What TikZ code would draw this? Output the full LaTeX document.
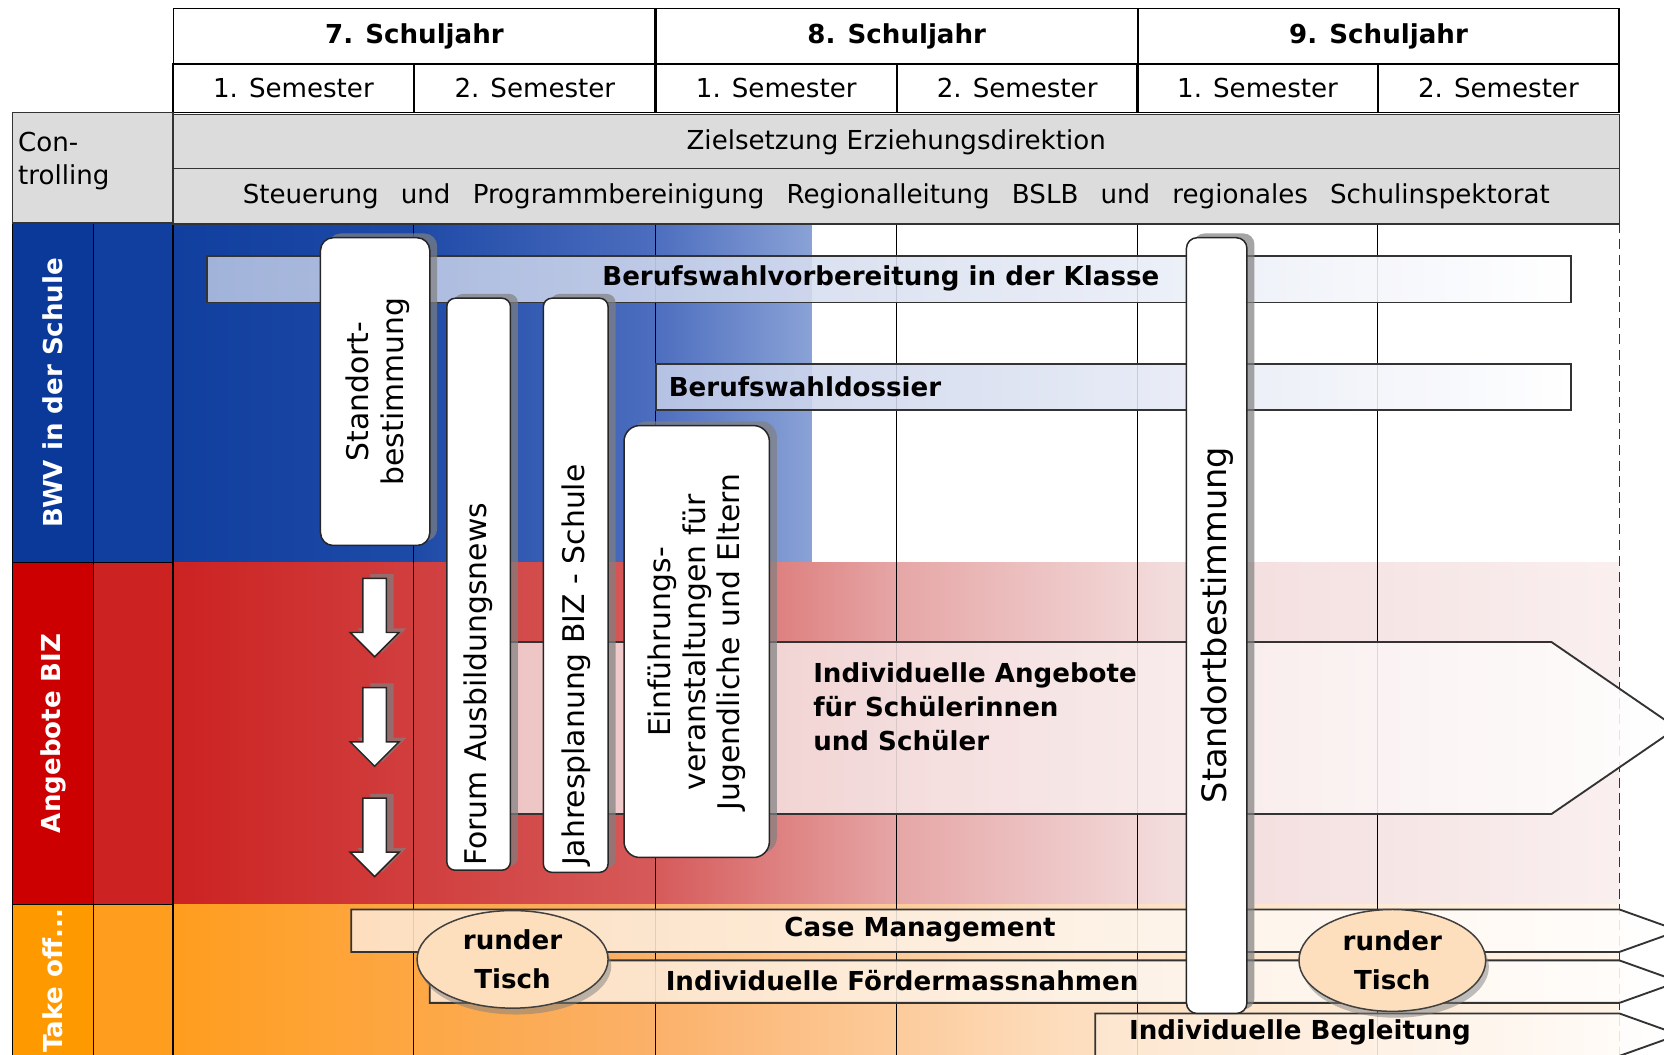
\documentclass[tikz,border=0pt]{standalone}
\usepackage{fontspec}
\setmainfont{DejaVu Sans}
\usetikzlibrary{shapes.geometric, shadows, positioning}
\definecolor{BWVDark}{HTML}{0A399A}
\definecolor{BWVBlue}{HTML}{113F9F}
\definecolor{BWVBlueA}{HTML}{1E4AA7}
\definecolor{BWVBlueB}{HTML}{4D6EBF}
\definecolor{BWVBlueC}{HTML}{8AA2D6}
\definecolor{BIZRed}{HTML}{CC0000}
\definecolor{BIZRedA}{HTML}{CC2222}
\definecolor{BIZRedB}{HTML}{D65A5A}
\definecolor{BIZRedC}{HTML}{E6A6A6}
\definecolor{BIZRedD}{HTML}{F3DCDC}
\definecolor{BIZRedE}{HTML}{FAEFEF}
\definecolor{TakeOrange}{HTML}{FF9900}
\definecolor{TakeOrangeA}{HTML}{FF9D1E}
\definecolor{TakeOrangeB}{HTML}{FBB16A}
\definecolor{TakeOrangeC}{HTML}{FDDDBD}
\definecolor{TakeOrangeD}{HTML}{FFF4E8}
\definecolor{CtrlGray}{HTML}{DCDCDC}
\definecolor{BarBlue}{HTML}{B6C3E3}
\definecolor{BarBlueB}{HTML}{C4CEE9}
\definecolor{BarPink}{HTML}{F2D6D6}
\definecolor{BarCream}{HTML}{FDE8D2}
\definecolor{TischFill}{HTML}{FDDFBD}
\newcommand{\fsHead}{\fontsize{14}{17}\selectfont}
\newcommand{\fsBox}{\fontsize{16}{18.5}\selectfont}
\newcommand{\fsPillar}{\fontsize{18}{21}\selectfont}
\newcommand{\wideSpace}{\spaceskip=0.85em\relax}

\begin{document}
\begin{tikzpicture}[x=0.02cm, y=-0.02cm,
    yearcell/.style={draw=black, line width=1pt, minimum width=9.08cm, minimum height=1.04cm, inner sep=0pt, font=\fsHead\bfseries},
    semcell/.style={draw=black, line width=1pt, minimum width=4.54cm, minimum height=0.92cm, inner sep=0pt, font=\fsHead},
    ctrlcell/.style={draw=black!80, fill=CtrlGray, line width=0.8pt, minimum width=27.26cm, minimum height=1.04cm, inner sep=0pt, font=\fsHead},
    lanetext/.style={rotate=90, text=white, font=\fsHead\bfseries},
    gridline/.style={black, line width=0.6pt},
    bar/.style={draw=black!80, line width=1pt, fill opacity=0.88},
    bartext/.style={font=\fsHead\bfseries},
    whitebox/.style={draw=black!85, fill=white, line width=0.8pt,
        drop shadow={shadow xshift=0.14cm, shadow yshift=0.08cm, opacity=0.7}},
    boxtext/.style={rotate=90, font=\fsBox},
    tisch/.style={ellipse, draw=black!75, fill=TischFill, line width=0.8pt, inner sep=0pt, align=center,
        font=\fontsize{14}{21}\selectfont\bfseries,
        drop shadow={shadow xshift=0.06cm, shadow yshift=-0.12cm, opacity=0.5}}]
    \useasboundingbox (0,0) rectangle (1568,994);
    \fill[white] (0,0) rectangle (1568,994);

    % Bands
    \fill[BWVDark] (12,210) rectangle (88,530);
    \fill[BWVBlue] (88,210) rectangle (164,530);
    \shade[left color=BWVBlue, right color=BWVBlueA] (163,210) rectangle (391,530);
    \shade[left color=BWVBlueA, right color=BWVBlueB] (390,210) rectangle (619,530);
    \shade[left color=BWVBlueB, right color=BWVBlueC] (618,210) rectangle (765,530);

    \fill[BIZRed] (12,530) rectangle (88,852);
    \fill[BIZRedA] (88,530) rectangle (164,852);
    \shade[left color=BIZRedA, right color=BIZRedB] (163,530) rectangle (619,852);
    \shade[left color=BIZRedB, right color=BIZRedC] (618,530) rectangle (846,852);
    \shade[left color=BIZRedC, right color=BIZRedD] (845,530) rectangle (1101,852);
    \shade[left color=BIZRedD, right color=BIZRedE] (1100,530) rectangle (1526,852);

    \fill[TakeOrange] (12,852) rectangle (88,994);
    \fill[TakeOrangeA] (88,852) rectangle (164,994);
    \shade[left color=TakeOrangeA, right color=TakeOrangeB] (163,852) rectangle (619,994);
    \shade[left color=TakeOrangeB, right color=TakeOrangeC] (618,852) rectangle (1001,994);
    \shade[left color=TakeOrangeC, right color=TakeOrangeD] (1000,852) rectangle (1526,994);

    % Grid
    \draw[gridline] (12,210) -- (12,994);
    \draw[gridline] (88,210) -- (88,994);
    \draw[gridline] (163,210) -- (163,994);
    \draw[gridline] (12,530) -- (163,530);
    \draw[gridline] (12,852) -- (163,852);
    \draw[gridline] (390,210) -- (390,994);
    \draw[gridline] (618,210) -- (618,994);
    \draw[gridline] (845,210) -- (845,994);
    \draw[gridline] (1072,210) -- (1072,994);
    \draw[gridline] (1298,210) -- (1298,994);
    \draw[black!80, line width=0.8pt, dash pattern=on 5.5pt off 3pt] (1526,210) -- (1526,994);

    % Lane labels
    \node[lanetext] (bwv) at (50,370) {BWV in der Schule};
    \node[lanetext] (biz) at (50,691) {Angebote BIZ};
    \node[lanetext] (takeoff) at (50,924) {Take off...};

    % Bars
    \shadedraw[bar, left color=BarBlue, right color=white] (195,241) rectangle (1480,285);
    \node[bartext] (klasse) at (830,262) {Berufswahlvorbereitung in der Klasse};
    \shadedraw[bar, left color=BarBlueB, right color=white] (618,343) rectangle (1480,386);
    \node[bartext, anchor=west] (dossier) at (624,364) {Berufswahldossier};

    \shadedraw[bar, left color=BarPink, right color=white] (450,605) -- (1462,605) -- (1580,686) -- (1462,767) -- (450,767) -- cycle;
    \node[anchor=north west, align=left, inner sep=0pt, font=\fontsize{14}{18.2}\selectfont\bfseries] (angebote) at (766,624)
        {Individuelle Angebote\\für Schülerinnen\\und Schüler};

    \shadedraw[bar, left color=BarCream, right color=white] (331,857) -- (1526,857) -- (1582,877) -- (1526,897) -- (331,897) -- cycle;
    \node[bartext] (caseMgmt) at (867,876) {Case Management};
    \shadedraw[bar, left color=BarCream, right color=white] (405,905) -- (1526,905) -- (1582,925) -- (1526,945) -- (405,945) -- cycle;
    \node[bartext] (foerder) at (850,924) {Individuelle Fördermassnahmen};
    \shadedraw[bar, left color=BarCream, right color=white] (1032,955) -- (1526,955) -- (1582,975) -- (1526,995) -- (1032,995) -- cycle;
    \node[bartext] (begleitung) at (1225,973) {Individuelle Begleitung};

    % Boxes
    \draw[whitebox, rounded corners=0.24cm] (302,224) rectangle (405,514);
    \node[boxtext, align=center] (standortA) at (356,369) {Standort-\\bestimmung};
    \draw[whitebox, rounded corners=0.16cm] (421,281) rectangle (481,820);
    \node[boxtext, anchor=west, inner sep=1pt] (forum) at (451,818) {Forum Ausbildungsnews};
    \draw[whitebox, rounded corners=0.16cm] (512,281) rectangle (573,822);
    \node[boxtext, anchor=west, inner sep=1pt] (jahresplan) at (543,818) {Jahresplanung BIZ - Schule};
    \draw[whitebox, rounded corners=0.3cm] (588,401) rectangle (725,808);
    \node[boxtext, align=center] (einfuehrung) at (657,605) {Einführungs-\\veranstaltungen für\\Jugendliche und Eltern};
    \draw[whitebox, rounded corners=0.2cm] (1118,224) rectangle (1175,955);
    \node[rotate=90, font=\fsPillar] (standortB) at (1147,589) {Standortbestimmung};

    % Down arrows
    \filldraw[whitebox] (342,545) -- (364,545) -- (364,596) -- (376,596) -- (353,619) -- (330,596) -- (342,596) -- cycle;
    \filldraw[whitebox] (342,648) -- (364,648) -- (364,699) -- (376,699) -- (353,722) -- (330,699) -- (342,699) -- cycle;
    \filldraw[whitebox] (342,752) -- (364,752) -- (364,803) -- (376,803) -- (353,826) -- (330,803) -- (342,803) -- cycle;

    % Round tables
    \node[tisch, minimum width=3.6cm, minimum height=1.84cm] (tischA) at (483,904) {runder\\Tisch};
    \node[tisch, minimum width=3.52cm, minimum height=1.92cm] (tischB) at (1312,905) {runder\\Tisch};

    % Header
    \node[yearcell] (jahr7) at (390.5,34) {7. Schuljahr};
    \node[yearcell] (jahr8) at (845,34) {8. Schuljahr};
    \node[yearcell] (jahr9) at (1299,34) {9. Schuljahr};
    \node[semcell] (semA) at (276.5,83) {1. Semester};
    \node[semcell] (semB) at (504,83) {2. Semester};
    \node[semcell] (semC) at (731.5,83) {1. Semester};
    \node[semcell] (semD) at (958.5,83) {2. Semester};
    \node[semcell] (semE) at (1185,83) {1. Semester};
    \node[semcell] (semF) at (1412,83) {2. Semester};

    % Controlling
    \filldraw[fill=CtrlGray, draw=black!80, line width=0.8pt] (12,106) rectangle (163,210);
    \node[anchor=north west, align=left, inner sep=1pt, font=\fontsize{14}{18}\selectfont] (ctrl) at (15,122) {Con-\\trolling};
    \node[ctrlcell] (ziel) at (844.5,134) {Zielsetzung Erziehungsdirektion};
    \node[ctrlcell, font=\fsHead\wideSpace] (steuer) at (844.5,185) {Steuerung und Programmbereinigung Regionalleitung BSLB und regionales Schulinspektorat};
\end{tikzpicture}
\end{document}
